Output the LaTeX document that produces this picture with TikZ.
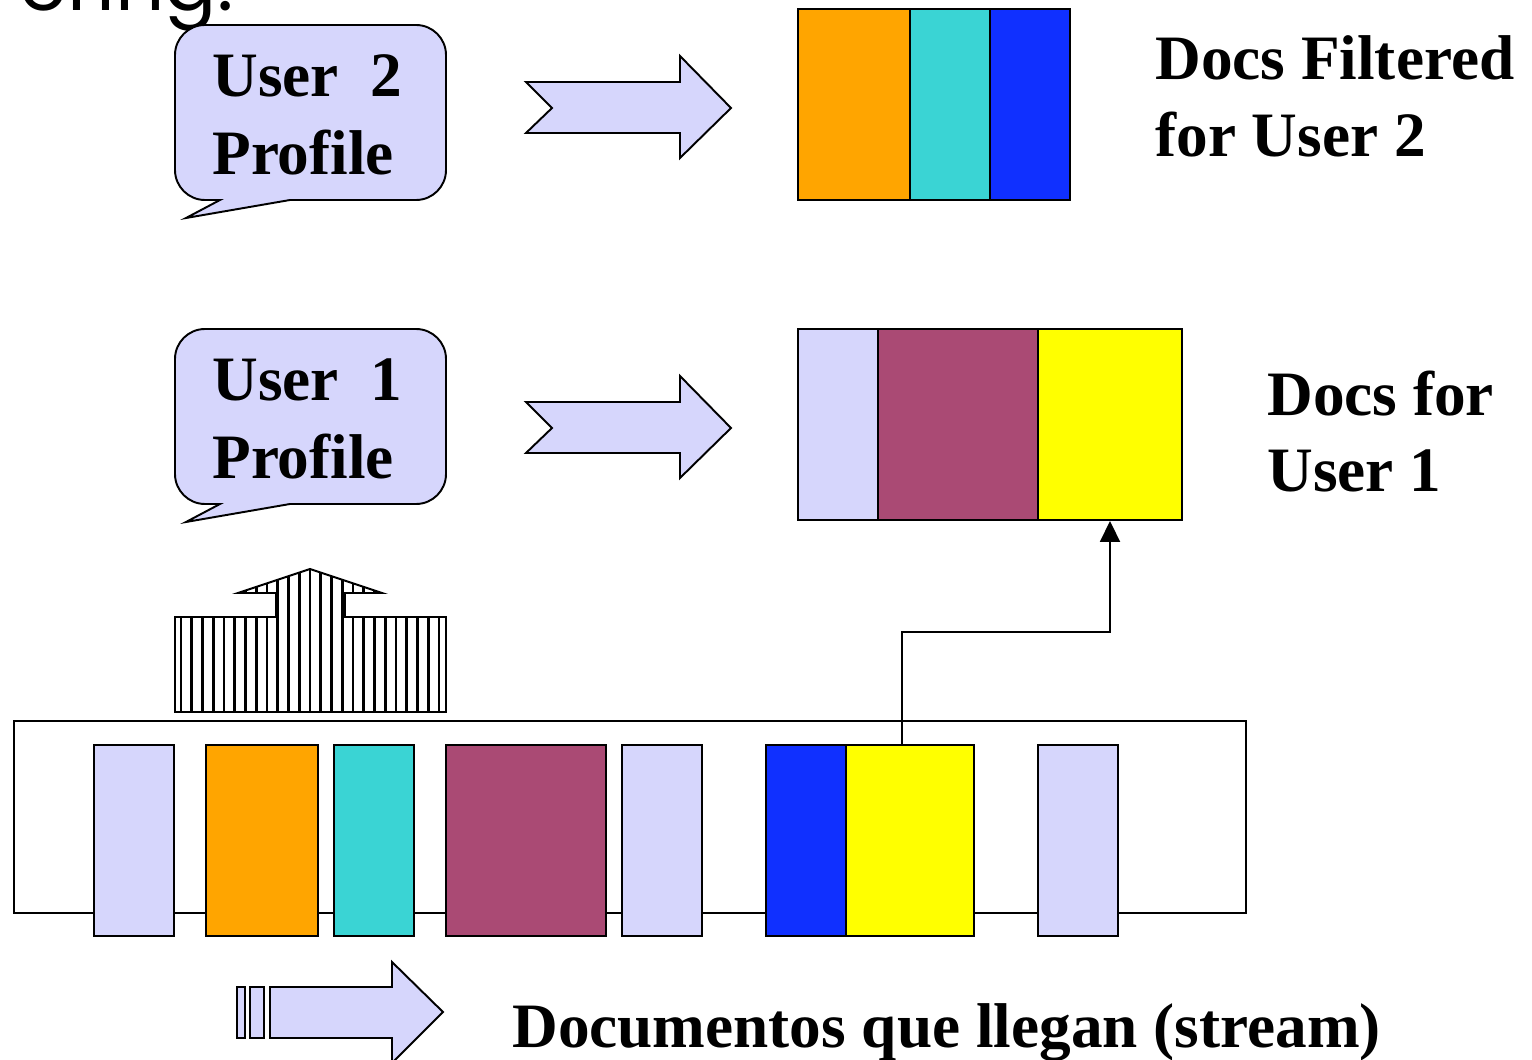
\documentclass[tikz,border=0pt]{standalone}
\usepackage{fontspec}
\setmainfont{Liberation Serif}
\newfontfamily\handfont{Poppins}
\usetikzlibrary{arrows.meta,positioning,fit}
\definecolor{docLav}{RGB}{214,214,252}
\definecolor{docOrange}{RGB}{255,165,0}
\definecolor{docTeal}{RGB}{58,212,212}
\definecolor{docBlue}{RGB}{16,48,255}
\definecolor{docMaroon}{RGB}{170,74,116}
\definecolor{docYellow}{RGB}{255,255,0}
\tikzset{
	docbox/.style={draw=black,line width=1.1pt,inner sep=0pt},
	shapeline/.style={draw=black,line width=1.1pt,line join=miter},
	lbl/.style={font=\bfseries\fontsize{36}{44}\selectfont,inner sep=0pt,anchor=base west}
}
\newcommand{\docblock}[6]{\node[docbox,fill=#2,fit={(#3,#5) (#4,#6)}] (#1) {};}
\newcommand{\chevron}[1]{\draw[shapeline,fill=docLav] (526,#1-26) -- (680,#1-26) -- (680,#1-52) -- (731,#1) -- (680,#1+50) -- (680,#1+25) -- (526,#1+25) -- (552,#1) -- cycle;}
\newcommand{\bubble}[1]{\draw[shapeline,fill=docLav] (290,200+#1) [rounded corners=0.6cm] -- (446,200+#1) -- (446,25+#1) -- (175,25+#1) -- (175,200+#1) [sharp corners] -- (220,200+#1) -- (186,218+#1) -- cycle;}

\begin{document}
\begin{tikzpicture}[x=0.02cm,y=-0.02cm]
		\useasboundingbox (0,0) rectangle (1532,1060);
		\node[font=\handfont\fontsize{44}{44}\selectfont,anchor=base east,inner sep=0pt] (hand) at (234,11) {ering:};
		% profiles
		\bubble{0} \bubble{304}
		\node[lbl] (p2a) at (212,97) {User\ \ 2};
		\node[lbl] (p2b) at (212,175) {Profile};
		\node[lbl] (p1a) at (212,401) {User\ \ 1};
		\node[lbl] (p1b) at (212,479) {Profile};
		\chevron{108} \chevron{428}
		% filtered docs
		\docblock{t1}{docOrange}{798}{910}{9}{200} \docblock{t2}{docTeal}{910}{990}{9}{200} \docblock{t3}{docBlue}{990}{1070}{9}{200}
		\docblock{m1}{docLav}{798}{878}{329}{520} \docblock{m2}{docMaroon}{878}{1038}{329}{520} \docblock{m3}{docYellow}{1038}{1182}{329}{520}
		\node[lbl] (d2a) at (1155,80) {Docs Filtered};
		\node[lbl] (d2b) at (1155,157) {for User 2};
		\node[lbl] (d1a) at (1267,416) {Docs for};
		\node[lbl] (d1b) at (1267,492) {User 1};
		% stream
		\node[docbox,fill=white,fit={(14,721) (1246,913)}] (stream) {};
		\docblock{s1}{docLav}{94}{174}{745}{936} \docblock{s2}{docOrange}{206}{318}{745}{936} \docblock{s3}{docTeal}{334}{414}{745}{936}
		\docblock{s4}{docMaroon}{446}{606}{745}{936} \docblock{s5}{docLav}{622}{702}{745}{936} \docblock{s6}{docBlue}{766}{846}{745}{936}
		\docblock{s7}{docYellow}{846}{974}{745}{936} \docblock{s8}{docLav}{1038}{1118}{745}{936}
		\coordinate (bend) at (1000,632);
		\draw[line width=1.1pt,-{Triangle[width=0.4cm,length=0.42cm]}] ([xshift=-0.16cm]s7.north) |- (bend) -| (m3.south);
		% striped arrow
		\begin{scope}
			\clip (175,712) -- (175,617) -- (276,617) -- (276,593) -- (238,593) -- (310,569) -- (382,593) -- (345,593) -- (345,617) -- (446,617) -- (446,712) -- cycle;
			\foreach \x in {181,191.75,...,446} \draw[line width=1.6pt] (\x,560) -- (\x,720);
		\end{scope}
		\draw[shapeline] (175,712) -- (175,617) -- (276,617) -- (276,593) -- (238,593) -- (310,569) -- (382,593) -- (345,593) -- (345,617) -- (446,617) -- (446,712) -- cycle;
		% stream arrow
		\draw[shapeline,fill=docLav] (237,987) rectangle (245,1038);
		\draw[shapeline,fill=docLav] (250,987) rectangle (264,1038);
		\draw[shapeline,fill=docLav] (270,987) -- (392,987) -- (392,962) -- (443,1012) -- (392,1063) -- (392,1038) -- (270,1038) -- cycle;
		\node[lbl] (streamlbl) at (512,1047) {Documentos que llegan (stream)};
\end{tikzpicture}
\end{document}
